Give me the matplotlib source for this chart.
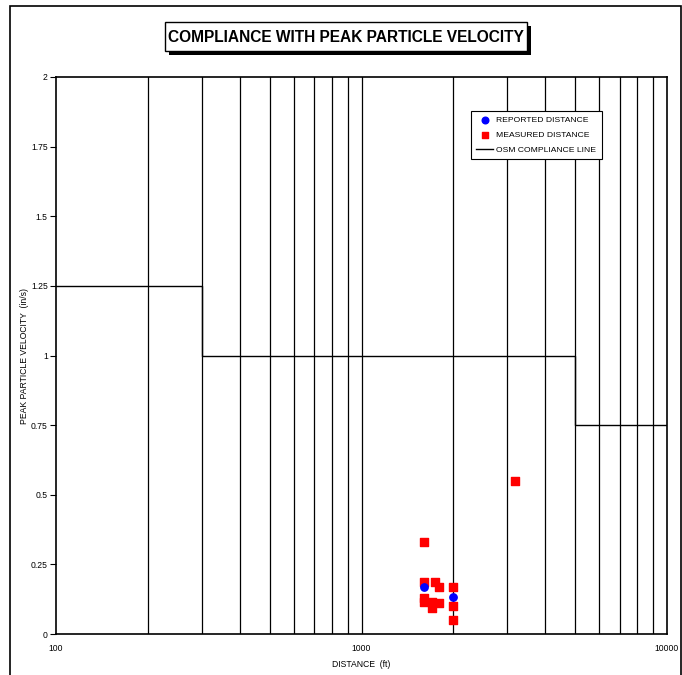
import matplotlib.pyplot as plt
from matplotlib.patches import Rectangle

plt.rcParams['font.family'] = ['Liberation Sans', 'DejaVu Sans']

# blast monitoring results: distance (ft) vs peak particle velocity (in/s)
reported_dist = [1600, 2000]
reported_ppv = [0.17, 0.134]

measured_dist = [1600, 1600, 1745, 1800, 1600, 1600, 1700, 1700, 1800, 2000, 2000, 2000, 3180]
measured_ppv = [0.33, 0.186, 0.186, 0.17, 0.13, 0.114, 0.116, 0.094, 0.112, 0.17, 0.10, 0.05, 0.55]

# OSM scaled compliance limits
osm_dist = [100, 300, 300, 5000, 5000, 10000]
osm_ppv = [1.25, 1.25, 1.0, 1.0, 0.75, 0.75]

grid_lines = [200, 300, 400, 500, 600, 700, 800, 900, 1000,
              2000, 3000, 4000, 5000, 6000, 7000, 8000, 9000]

W, H = 682, 675


def fx(px):
    return px / W


def fy(py):
    return 1 - py / H


fig = plt.figure(figsize=(6.82, 6.75), dpi=100)
ax = fig.add_axes([fx(56), fy(634), 611 / W, 557 / H])

# outer border of the sheet
fig.patches.append(Rectangle((fx(10), -0.05), 671 / W, 1.05 - 6 / H,
                             transform=fig.transFigure, fill=False,
                             edgecolor='black', linewidth=1.2))

for g in grid_lines:
    ax.axvline(g, color='black', linewidth=0.9, zorder=1)

ax.plot(osm_dist, osm_ppv, color='black', linewidth=1.0, zorder=2,
        label='OSM COMPLIANCE LINE')
ax.scatter(measured_dist, measured_ppv, marker='s', s=28, color='#ff0000',
           zorder=3, label='MEASURED DISTANCE')
ax.scatter(reported_dist, reported_ppv, marker='o', s=28, color='#0000ff',
           zorder=4, label='REPORTED DISTANCE')

ax.set_xscale('log')
ax.set_xlim(100, 10000)
ax.set_ylim(0, 2)
ax.set_xticks([100, 1000, 10000])
ax.set_xticklabels(['100', '1000', '10000'])
ax.minorticks_off()
ax.set_yticks([0, 0.25, 0.5, 0.75, 1, 1.25, 1.5, 1.75, 2])
ax.set_yticklabels(['0', '0.25', '0.5', '0.75', '1', '1.25', '1.5', '1.75', '2'])
ax.tick_params(axis='y', direction='out', length=4, width=0.8, labelsize=6.2, pad=2)
ax.tick_params(axis='x', length=0, labelsize=6.2, pad=7)
for sp in ax.spines.values():
    sp.set_linewidth(1.2)

ax.set_xlabel('DISTANCE  (ft)', fontsize=6.2, labelpad=5)
ax.set_ylabel('PEAK PARTICLE VELOCITY  (in/s)', fontsize=6.2)
ax.yaxis.set_label_coords((29 - 56) / 611, 0.5)

handles, labels = ax.get_legend_handles_labels()
order = [2, 1, 0]
leg = ax.legend([handles[i] for i in order], [labels[i] for i in order],
                loc='upper right', bbox_to_anchor=((602 - 56) / 611, (634 - 111) / 557),
                borderaxespad=0, fontsize=6.1, frameon=True, fancybox=False,
                edgecolor='black', framealpha=1, handlelength=2.0,
                handletextpad=0.4, borderpad=0.65, labelspacing=0.8,
                markerscale=0.9)
leg.get_frame().set_linewidth(0.8)

# title box with drop shadow
fig.patches.append(Rectangle((fx(169), fy(55)), 362 / W, 29 / H,
                             transform=fig.transFigure, facecolor='black',
                             edgecolor='none'))
fig.patches.append(Rectangle((fx(165), fy(51)), 362 / W, 29 / H,
                             transform=fig.transFigure, facecolor='white',
                             edgecolor='black', linewidth=1.0))
fig.text(fx(346), fy(37), 'COMPLIANCE WITH PEAK PARTICLE VELOCITY',
         ha='center', va='center', fontsize=11.2, fontweight='bold')

fig.savefig('out.png', dpi=100)
